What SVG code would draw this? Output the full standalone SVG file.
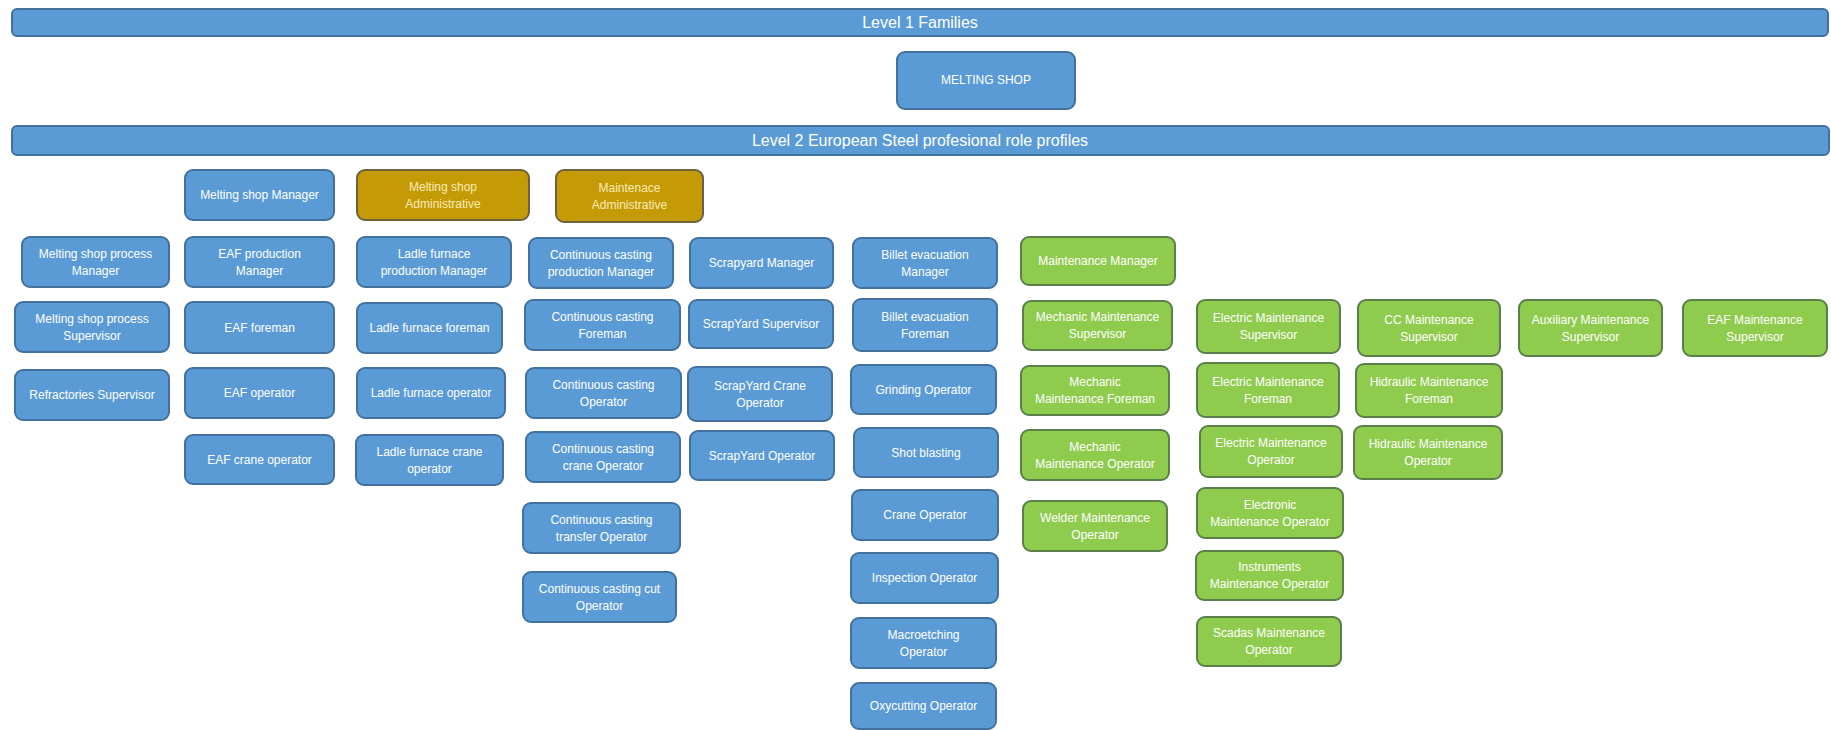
<svg xmlns="http://www.w3.org/2000/svg" width="1831" height="730" viewBox="0 0 1831 730">
<style>
rect{stroke-width:2}
.b{fill:#5B9BD5;stroke:#41719C}
.o{fill:#C49A06;stroke:#6B6340}
.g{fill:#8FCC4E;stroke:#5B7F4A}
text{font-family:"Liberation Sans",Arial,sans-serif;font-size:12px;fill:#FFFFFF;text-anchor:middle;dominant-baseline:central}
.o ~ text{fill:#FAEBB8}
.h{font-size:16px}
</style>
<rect width="1831" height="730" fill="#FFFFFF" stroke="none"/>
<g id="bar-level1"><rect class="b" x="12" y="9" width="1816" height="27" rx="5"/><text class="h" x="920" y="22">Level 1 Families</text></g>
<g id="melting-shop"><rect class="b" x="897" y="52" width="178" height="57" rx="8"/><text x="986" y="80">MELTING SHOP</text></g>
<g id="bar-level2"><rect class="b" x="12" y="126" width="1817" height="29" rx="5"/><text class="h" x="920" y="140">Level 2 European Steel profesional role profiles</text></g>

<g id="n-msp-manager"><rect class="b" x="22" y="237" width="147" height="50" rx="8"/><text x="95.5" y="253.5">Melting shop process</text><text x="95.5" y="270.5">Manager</text></g>
<g id="n-msp-supervisor"><rect class="b" x="15" y="302" width="154" height="50" rx="8"/><text x="92" y="318.5">Melting shop process</text><text x="92" y="335.5">Supervisor</text></g>
<g id="n-refractories"><rect class="b" x="15" y="370" width="154" height="50" rx="8"/><text x="92" y="395">Refractories Supervisor</text></g>

<g id="n-ms-manager"><rect class="b" x="185" y="170" width="149" height="50" rx="8"/><text x="259.5" y="195">Melting shop Manager</text></g>
<g id="n-eaf-prod-manager"><rect class="b" x="185" y="237" width="149" height="50" rx="8"/><text x="259.5" y="253.5">EAF production</text><text x="259.5" y="270.5">Manager</text></g>
<g id="n-eaf-foreman"><rect class="b" x="185" y="302" width="149" height="51" rx="8"/><text x="259.5" y="327.5">EAF foreman</text></g>
<g id="n-eaf-operator"><rect class="b" x="185" y="368" width="149" height="50" rx="8"/><text x="259.5" y="393">EAF operator</text></g>
<g id="n-eaf-crane"><rect class="b" x="185" y="435" width="149" height="49" rx="8"/><text x="259.5" y="459.5">EAF crane operator</text></g>

<g id="n-ms-admin"><rect class="o" x="357" y="170" width="172" height="50" rx="8"/><text x="443" y="186.5">Melting shop</text><text x="443" y="203.5">Administrative</text></g>
<g id="n-lf-prod-manager"><rect class="b" x="357" y="237" width="154" height="50" rx="8"/><text x="434" y="253.5">Ladle furnace</text><text x="434" y="270.5">production Manager</text></g>
<g id="n-lf-foreman"><rect class="b" x="357" y="303" width="145" height="50" rx="8"/><text x="429.5" y="328">Ladle furnace foreman</text></g>
<g id="n-lf-operator"><rect class="b" x="357" y="368" width="148" height="50" rx="8"/><text x="431" y="393">Ladle furnace operator</text></g>
<g id="n-lf-crane"><rect class="b" x="356" y="435" width="147" height="50" rx="8"/><text x="429.5" y="451.5">Ladle furnace crane</text><text x="429.5" y="468.5">operator</text></g>

<g id="n-maint-admin"><rect class="o" x="556" y="170" width="147" height="52" rx="8"/><text x="629.5" y="187.5">Maintenace</text><text x="629.5" y="204.5">Administrative</text></g>
<g id="n-cc-prod-manager"><rect class="b" x="529" y="238" width="144" height="50" rx="8"/><text x="601" y="254.5">Continuous casting</text><text x="601" y="271.5">production Manager</text></g>
<g id="n-cc-foreman"><rect class="b" x="525" y="300" width="155" height="50" rx="8"/><text x="602.5" y="316.5">Continuous casting</text><text x="602.5" y="333.5">Foreman</text></g>
<g id="n-cc-operator"><rect class="b" x="526" y="368" width="155" height="50" rx="8"/><text x="603.5" y="384.5">Continuous casting</text><text x="603.5" y="401.5">Operator</text></g>
<g id="n-cc-crane"><rect class="b" x="526" y="432" width="154" height="50" rx="8"/><text x="603" y="448.5">Continuous casting</text><text x="603" y="465.5">crane Operator</text></g>
<g id="n-cc-transfer"><rect class="b" x="523" y="503" width="157" height="50" rx="8"/><text x="601.5" y="519.5">Continuous casting</text><text x="601.5" y="536.5">transfer Operator</text></g>
<g id="n-cc-cut"><rect class="b" x="523" y="572" width="153" height="50" rx="8"/><text x="599.5" y="588.5">Continuous casting cut</text><text x="599.5" y="605.5">Operator</text></g>

<g id="n-sy-manager"><rect class="b" x="690" y="238" width="143" height="50" rx="8"/><text x="761.5" y="263">Scrapyard Manager</text></g>
<g id="n-sy-supervisor"><rect class="b" x="689" y="300" width="144" height="48" rx="8"/><text x="761" y="324">ScrapYard  Supervisor</text></g>
<g id="n-sy-crane"><rect class="b" x="688" y="367" width="144" height="54" rx="8"/><text x="760" y="385.5">ScrapYard  Crane</text><text x="760" y="402.5">Operator</text></g>
<g id="n-sy-operator"><rect class="b" x="690" y="431" width="144" height="49" rx="8"/><text x="762" y="455.5">ScrapYard  Operator</text></g>

<g id="n-be-manager"><rect class="b" x="853" y="238" width="144" height="50" rx="8"/><text x="925" y="254.5">Billet evacuation</text><text x="925" y="271.5">Manager</text></g>
<g id="n-be-foreman"><rect class="b" x="853" y="299" width="144" height="52" rx="8"/><text x="925" y="316.5">Billet evacuation</text><text x="925" y="333.5">Foreman</text></g>
<g id="n-grinding"><rect class="b" x="851" y="365" width="145" height="49" rx="8"/><text x="923.5" y="389.5">Grinding Operator</text></g>
<g id="n-shot"><rect class="b" x="854" y="428" width="144" height="49" rx="8"/><text x="926" y="452.5">Shot blasting</text></g>
<g id="n-crane"><rect class="b" x="852" y="490" width="146" height="50" rx="8"/><text x="925" y="515">Crane Operator</text></g>
<g id="n-inspection"><rect class="b" x="851" y="553" width="147" height="50" rx="8"/><text x="924.5" y="578">Inspection Operator</text></g>
<g id="n-macro"><rect class="b" x="851" y="618" width="145" height="50" rx="8"/><text x="923.5" y="634.5">Macroetching</text><text x="923.5" y="651.5">Operator</text></g>
<g id="n-oxy"><rect class="b" x="851" y="683" width="145" height="46" rx="8"/><text x="923.5" y="706">Oxycutting Operator</text></g>

<g id="n-maint-manager"><rect class="g" x="1021" y="237" width="154" height="48" rx="8"/><text x="1098" y="261">Maintenance Manager</text></g>
<g id="n-mech-sup"><rect class="g" x="1023" y="301" width="149" height="49" rx="8"/><text x="1097.5" y="317">Mechanic Maintenance</text><text x="1097.5" y="334">Supervisor</text></g>
<g id="n-elec-sup"><rect class="g" x="1197" y="300" width="143" height="53" rx="8"/><text x="1268.5" y="318">Electric Maintenance</text><text x="1268.5" y="335">Supervisor</text></g>
<g id="n-cc-sup"><rect class="g" x="1358" y="300" width="142" height="56" rx="8"/><text x="1429" y="319.5">CC Maintenance</text><text x="1429" y="336.5">Supervisor</text></g>
<g id="n-aux-sup"><rect class="g" x="1519" y="300" width="143" height="56" rx="8"/><text x="1590.5" y="319.5">Auxiliary Maintenance</text><text x="1590.5" y="336.5">Supervisor</text></g>
<g id="n-eaf-sup"><rect class="g" x="1683" y="300" width="144" height="56" rx="8"/><text x="1755" y="319.5">EAF Maintenance</text><text x="1755" y="336.5">Supervisor</text></g>
<g id="n-mech-foreman"><rect class="g" x="1021" y="366" width="148" height="49" rx="8"/><text x="1095" y="382">Mechanic</text><text x="1095" y="399">Maintenance Foreman</text></g>
<g id="n-elec-foreman"><rect class="g" x="1197" y="363" width="142" height="54" rx="8"/><text x="1268" y="381.5">Electric Maintenance</text><text x="1268" y="398.5">Foreman</text></g>
<g id="n-hid-foreman"><rect class="g" x="1356" y="364" width="146" height="53" rx="8"/><text x="1429" y="382">Hidraulic Maintenance</text><text x="1429" y="399">Foreman</text></g>
<g id="n-mech-operator"><rect class="g" x="1021" y="430" width="148" height="50" rx="8"/><text x="1095" y="446.5">Mechanic</text><text x="1095" y="463.5">Maintenance Operator</text></g>
<g id="n-elec-operator"><rect class="g" x="1200" y="426" width="142" height="51" rx="8"/><text x="1271" y="443">Electric Maintenance</text><text x="1271" y="460">Operator</text></g>
<g id="n-hid-operator"><rect class="g" x="1354" y="426" width="148" height="53" rx="8"/><text x="1428" y="444">Hidraulic Maintenance</text><text x="1428" y="461">Operator</text></g>
<g id="n-welder"><rect class="g" x="1023" y="501" width="144" height="50" rx="8"/><text x="1095" y="517.5">Welder Maintenance</text><text x="1095" y="534.5">Operator</text></g>
<g id="n-electronic"><rect class="g" x="1197" y="488" width="146" height="50" rx="8"/><text x="1270" y="504.5">Electronic</text><text x="1270" y="521.5">Maintenance Operator</text></g>
<g id="n-instruments"><rect class="g" x="1196" y="551" width="147" height="49" rx="8"/><text x="1269.5" y="567">Instruments</text><text x="1269.5" y="584">Maintenance Operator</text></g>
<g id="n-scadas"><rect class="g" x="1197" y="617" width="144" height="49" rx="8"/><text x="1269" y="633">Scadas Maintenance</text><text x="1269" y="650">Operator</text></g>
</svg>
